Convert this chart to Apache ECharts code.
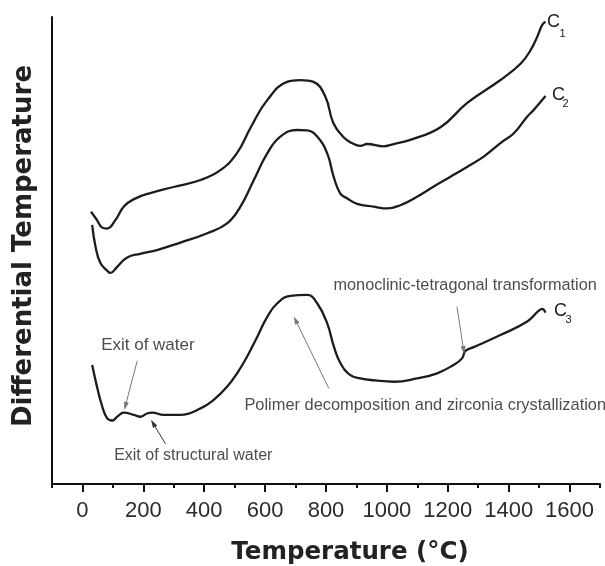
<!DOCTYPE html>
<html><head><meta charset="utf-8">
<script src="https://cdn.jsdelivr.net/npm/echarts@6/dist/echarts.min.js"></script>
<style>html,body{margin:0;padding:0;background:#fff}#c{width:605px;height:566px}</style>
</head><body><div id="c"></div>
<script>
// ---- data (temperature in °C, differential temperature in arbitrary units) ----
const c1Temp = [28,46,65,81,108,136,169,223,299,388,453,508,553,607,672,716,759,798,824,857,885,913,935,989,1022,1077,1176,1264,1373,1439,1472,1494,1510,1521];
const c1Val  = [58.3,56.7,54.9,54.7,56.5,59.4,61.0,62.3,63.6,65.1,67.2,70.9,76.4,82.2,86.1,86.5,86.1,82.9,77.3,74.3,73.0,72.4,72.8,72.3,72.8,73.7,76.4,81.6,86.5,90.0,92.9,95.8,98.3,99.0];

const c2Temp = [32,43,59,81,92,114,147,190,245,322,410,475,519,563,607,650,705,738,771,804,825,847,869,902,957,1001,1044,1099,1154,1209,1263,1318,1373,1417,1460,1482,1521];
const c2Val  = [55.5,50.8,47.3,45.7,45.2,46.5,48.5,49.3,50.1,51.7,53.7,55.8,59.4,65.1,70.8,74.4,75.8,75.7,74.4,70.8,65.8,62.2,61.2,60.0,59.4,59.0,59.7,61.5,63.7,65.8,67.9,70.1,73.0,75.1,78.6,80.1,83.1];

const c3Temp = [32,48,65,81,98,114,136,169,191,212,229,267,322,388,431,475,508,541,574,607,640,683,738,771,804,826,848,880,913,960,1023,1099,1165,1219,1247,1258,1285,1373,1461,1499,1510,1521];
const c3Val  = [25.5,20.8,16.6,14.1,13.6,14.4,15.3,14.8,14.4,15.1,15.3,14.8,14.8,16.2,18.0,20.8,23.7,27.3,31.5,35.8,38.7,40.3,40.5,38.7,34.4,29.4,25.8,23.3,22.6,22.2,21.9,22.6,23.7,25.5,26.9,28.5,29.3,31.9,34.8,37.1,37.5,36.7];

const curveNames = ['C', 'C', 'C'];
const curveSubs = ['1', '2', '3'];

const xMajorTicks = [0,200,400,600,800,1000,1200,1400,1600];
const xMinorTicks = [-100,100,300,500,700,900,1100,1300,1500,1700];

const annoText = ['Exit of water', 'Exit of structural water', 'Polimer decomposition and zirconia crystallization', 'monoclinic-tetragonal transformation'];
const annoTextAt = [[215,29.8],[364,6.0],[532,16.9],[1257,42.6]];
const annoArrowFrom = [[180,26.4],[273,8.6],[809,20.5],[1230,38.0]];
const annoArrowTo = [[141,16.7],[232,13.0],[700,35.1],[1252,28.7]];

const xTitle = 'Temperature (°C)';
const yTitle = 'Differential Temperature';

// ---- chart ----
const chart = echarts.init(document.getElementById('c'), null, {renderer: 'canvas'});
function pairs(t, v) { return t.map((x, i) => [x, v[i]]); }
const curves = [pairs(c1Temp, c1Val), pairs(c2Temp, c2Val), pairs(c3Temp, c3Val)];

const axisColor = '#111';
const arrowColors = ['#777', '#333', '#777', '#777'];
const lineSeries = curves.map((d, i) => {
  const s = {
    type: 'line', name: curveNames[i] + curveSubs[i], data: d,
    showSymbol: false, symbol: 'none', smooth: 0.45, silent: true,
    lineStyle: {color: '#1c1c1c', width: 2.3},
    animation: false
  };
  if (i === 2) {
    s.markLine = {
      silent: true, animation: false,
      symbol: ['none', 'triangle'], symbolSize: [5, 8],
      label: {show: false},
      lineStyle: {color: '#777', width: 1, type: 'solid'},
      emphasis: {disabled: true},
      data: annoArrowFrom.map((f, k) => [
        {coord: f, lineStyle: {color: arrowColors[k]}, itemStyle: {color: arrowColors[k]}},
        {coord: annoArrowTo[k], itemStyle: {color: arrowColors[k]}}
      ])
    };
  }
  return s;
});

chart.setOption({
  animation: false,
  grid: {left: 52, right: 5, top: 17, bottom: 82},
  xAxis: [
    {type: 'value', min: -100, max: 1700, position: 'bottom',
     axisLine: {show: true, onZero: false, lineStyle: {color: axisColor, width: 2}},
     axisTick: {show: true, customValues: xMajorTicks, length: 8, lineStyle: {color: axisColor, width: 2}},
     axisLabel: {show: true, customValues: xMajorTicks, margin: 16, fontSize: 22, fontFamily: 'Liberation Sans', color: '#2b2b2b',
                 formatter: v => String(v)},
     splitLine: {show: false}},
    {type: 'value', min: -100, max: 1700, position: 'bottom', gridIndex: 0,
     axisLine: {show: false, onZero: false},
     axisTick: {show: true, customValues: xMinorTicks, length: 4, lineStyle: {color: axisColor, width: 2}},
     axisLabel: {show: false},
     splitLine: {show: false}}
  ],
  yAxis: {type: 'value', min: 0, max: 100,
    axisLine: {show: true, onZero: false, lineStyle: {color: axisColor, width: 2}},
    axisTick: {show: false}, axisLabel: {show: false}, splitLine: {show: false}},
  series: lineSeries
});

function px(p) { return chart.convertToPixel({xAxisIndex: 0, yAxisIndex: 0}, p); }

const annoFont = [17, 16, 16.4, 16.3];
const annoAlign = ['center', 'center', 'left', 'center'];
const g = [];
annoText.forEach((t, i) => {
  const p = px(annoTextAt[i]);
  g.push({type: 'text', x: p[0], y: p[1], silent: true,
    style: {text: t, fill: '#4d4d4d', fontSize: annoFont[i], fontFamily: 'Liberation Sans', align: annoAlign[i], verticalAlign: 'middle'}});
});

const labelOffsets = [[8, 0, 17, 12], [13, -1, 20, 8], [15, -2, 23, 7]];
curves.forEach((d, i) => {
  const p = px(d[d.length - 1]);
  const o = labelOffsets[i];
  g.push({type: 'text', x: p[0] + o[0], y: p[1] + o[1], silent: true,
    style: {text: curveNames[i], fill: '#222', fontSize: 18, fontFamily: 'Liberation Sans', align: 'center', verticalAlign: 'middle'}});
  g.push({type: 'text', x: p[0] + o[2], y: p[1] + o[3], silent: true,
    style: {text: curveSubs[i], fill: '#222', fontSize: 11, fontFamily: 'Liberation Sans', align: 'center', verticalAlign: 'middle'}});
});

g.push({type: 'text', x: 350, y: 553, silent: true,
  style: {text: xTitle, fill: '#222', fontSize: 24.5, fontWeight: 'bold', fontFamily: 'DejaVu Sans', align: 'center', verticalAlign: 'middle'}});
g.push({type: 'text', x: 24, y: 246, rotation: Math.PI / 2, silent: true,
  style: {text: yTitle, fill: '#222', fontSize: 26, fontWeight: 'bold', fontFamily: 'DejaVu Sans', align: 'center', verticalAlign: 'middle'}});

chart.setOption({graphic: g});
</script>
</body></html>
